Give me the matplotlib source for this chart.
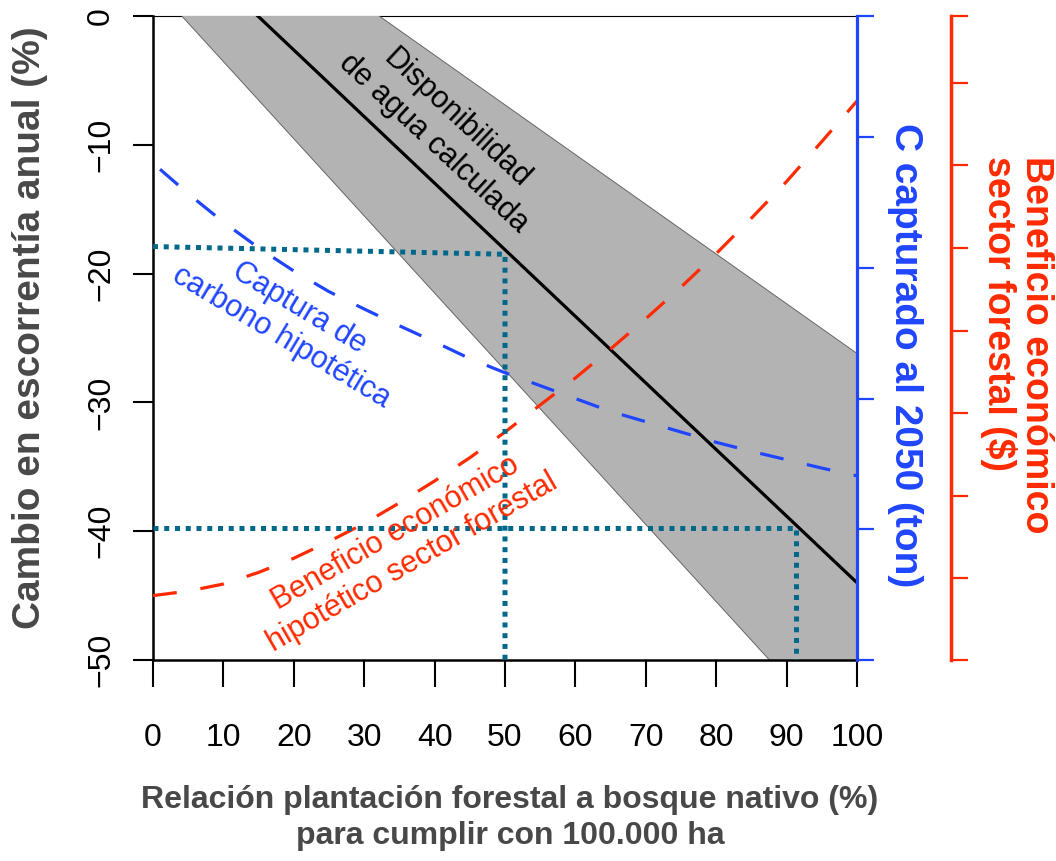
import numpy as np
import matplotlib.pyplot as plt

# --- datos ---
pct = [0, 5, 10, 15, 20, 25, 30, 35, 40, 45, 50, 55, 60, 65, 70, 75, 80, 85, 90, 95, 100]
beneficio = [-45.0, -44.65, -44.1, -43.2, -42.1, -40.8, -39.4, -37.8, -36.1, -34.3, -32.3,
             -30.2, -28.1, -25.85, -23.5, -21.05, -18.45, -15.7, -12.85, -9.75, -6.6]
pct_c = [1, 5, 10, 15, 20, 25, 30, 35, 40, 45, 50, 55, 60, 65, 70, 75, 80, 85, 90, 95, 100]
carbono = [-11.9, -13.8, -16.0, -18.0, -19.8, -21.4, -22.75, -24.05, -25.3, -26.6, -27.7,
           -28.7, -29.7, -30.7, -31.5, -32.3, -33.1, -33.8, -34.45, -35.1, -35.7]

# agua calculada (recta) y banda de incertidumbre
agua_x = [0, 100]
agua_y = [7.7, -44.0]
banda_sup = [12.4, -26.2]
banda_inf = [2.45, -57.45]

# lineas guia
guia1_x = [0, 50, 50]
guia1_y = [-17.9, -18.5, -50]
guia2_x = [0, 91.3, 91.3]
guia2_y = [-39.75, -39.75, -50]

xticks = [0, 10, 20, 30, 40, 50, 60, 70, 80, 90, 100]
yticks = [0, -10, -20, -30, -40, -50]
c_ticks = [0, -9.4, -19.55, -29.7, -39.85, -50]
b_ticks = [0, -5.2, -11.6, -18.0, -24.45, -30.85, -37.3, -43.65, -50]

AZUL = '#1f45ff'
ROJO = '#ff2a00'
TEAL = '#00688b'
GRIS = '#484848'

plt.rcParams['font.family'] = ['Liberation Sans', 'DejaVu Sans']

fig = plt.figure(figsize=(10.56, 8.61), dpi=100)
ax = fig.add_axes([153/1056, 1-660/861, 704/1056, 644/861])
ax.set_xlim(0, 100)
ax.set_ylim(-50, 0)

ax.fill_between(agua_x, banda_inf, banda_sup, color='#b3b3b3', lw=0, zorder=1)
ax.plot(agua_x, banda_sup, color='#666666', lw=0.7, zorder=1.5)
ax.plot(agua_x, banda_inf, color='#666666', lw=0.7, zorder=1.5)
ax.axhline(0, color='black', lw=0.8, zorder=0.5, clip_on=False)

ax.plot(agua_x, agua_y, color='black', lw=2.3, zorder=3)
ax.plot(pct_c, carbono, color=AZUL, lw=2.3, dashes=(7.5, 7.5), zorder=4)
ax.plot(pct, beneficio, color=ROJO, lw=2.3, dashes=(7.5, 7.5), zorder=4)
ax.plot(guia1_x, guia1_y, color=TEAL, lw=3.6, dashes=(1, 1.15), dash_capstyle='butt', zorder=5)
ax.plot(guia2_x, guia2_y, color=TEAL, lw=3.6, dashes=(1, 1.15), dash_capstyle='butt', zorder=5)

ax.text(41.5, -8.9, 'Disponibilidad\nde agua calculada', rotation=-43, ha='center', va='center',
        rotation_mode='anchor', fontsize=22, color='black', linespacing=1.15, zorder=6)
ax.text(19.5, -23.8, 'Captura de\ncarbono hipotética', rotation=-31, ha='center', va='center',
        rotation_mode='anchor', fontsize=22, color=AZUL, linespacing=1.15, zorder=6)
ax.text(35.6, -41.3, 'Beneficio económico\nhipotético sector forestal', rotation=30, ha='center',
        va='center', rotation_mode='anchor', fontsize=22, color=ROJO, linespacing=1.15, zorder=6)

for s in ['top', 'right']:
    ax.spines[s].set_visible(False)
for s in ['left', 'bottom']:
    ax.spines[s].set_linewidth(1.8)
ax.set_xticks(xticks)
ax.set_xticklabels([str(v) for v in xticks], fontsize=23)
ax.set_yticks(yticks)
ax.set_yticklabels(['0' if v == 0 else '\u2212' + str(-v) for v in yticks], fontsize=23,
                   rotation=90, va='center')
ax.tick_params(axis='x', direction='out', length=19.5, width=1.5, pad=26)
ax.tick_params(axis='y', direction='out', length=14.5, width=1.5, pad=12)

# eje azul (carbono)
ax2 = ax.twinx()
ax2.set_ylim(-50, 0)
for s in ['top', 'left', 'bottom']:
    ax2.spines[s].set_visible(False)
ax2.spines['right'].set_color(AZUL)
ax2.spines['right'].set_linewidth(2.3)
ax2.set_yticks(c_ticks)
ax2.set_yticklabels([])
ax2.tick_params(axis='y', colors=AZUL, length=12, width=1.6)

# eje rojo (beneficio)
ax3 = ax.twinx()
ax3.set_ylim(-50, 0)
for s in ['top', 'left', 'bottom']:
    ax3.spines[s].set_visible(False)
ax3.spines['right'].set_position(('outward', 68))
ax3.spines['right'].set_color(ROJO)
ax3.spines['right'].set_linewidth(2.5)
ax3.set_yticks(b_ticks)
ax3.set_yticklabels([])
ax3.tick_params(axis='y', colors=ROJO, length=12, width=1.6)

fig.text(30/1056, 1-328/861, 'Cambio en escorrentía anual (%)', rotation=90, ha='center',
         va='center', fontsize=28, fontweight='bold', color=GRIS)
fig.text(510/1056, 1-818/861, 'Relación plantación forestal a bosque nativo (%)\npara cumplir con 100.000 ha',
         ha='center', va='center', fontsize=23, fontweight='bold', color=GRIS, linespacing=1.25)
fig.text(905/1056, 1-355/861, 'C capturado al 2050 (ton)', rotation=-90, ha='center', va='center',
         fontsize=28, fontweight='bold', color=AZUL)
fig.text(1017/1056, 1-345/861, 'Beneficio económico\nsector forestal ($)', rotation=-90, ha='center',
         va='center', multialignment='left', fontsize=27, fontweight='bold', color=ROJO, linespacing=1.05)

plt.savefig('out.png', dpi=100)
